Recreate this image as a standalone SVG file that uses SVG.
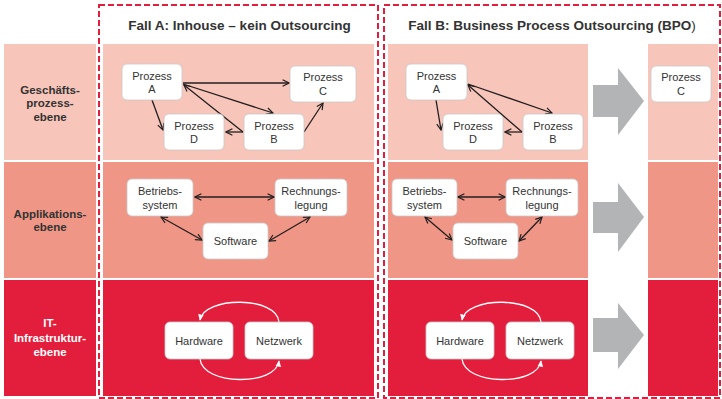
<svg xmlns="http://www.w3.org/2000/svg" width="722" height="399" viewBox="0 0 722 399">
<defs>
<style>
.r1{fill:#F7C5B9}
.r2{fill:#F09686}
.r3{fill:#E31E3C}
.box{fill:#fff;stroke:#c9c9c9;stroke-width:0.8}
.t{font-family:"Liberation Sans",Arial,sans-serif;font-size:11px;fill:#333;text-anchor:middle}
.lab{font-family:"Liberation Sans",Arial,sans-serif;font-size:11.5px;font-weight:bold;fill:#333;text-anchor:middle}
.title{font-family:"Liberation Sans",Arial,sans-serif;font-size:13.5px;font-weight:bold;fill:#333;text-anchor:middle}
.dash{fill:none;stroke:#E31E3C;stroke-width:2;stroke-dasharray:6,3}
.ln{stroke:#231F20;stroke-width:1.3;fill:none}
.wl{stroke:#fff;stroke-width:1.3;fill:none}
.big{fill:#B3B4B6}
</style>
<marker id="ah" viewBox="0 0 10 10" refX="9" refY="5" markerWidth="8" markerHeight="8" markerUnits="userSpaceOnUse" orient="auto-start-reverse">
<path d="M1,1 L9,5 L1,9" fill="none" stroke="#231F20" stroke-width="1.5"/>
</marker>
<marker id="wh" viewBox="0 0 10 10" refX="8" refY="5" markerWidth="7" markerHeight="7" markerUnits="userSpaceOnUse" orient="auto">
<path d="M0,1 L9,5 L0,9 Z" fill="#fff"/>
</marker>
</defs>
<rect width="722" height="399" fill="#fff"/>

<!-- bands -->
<g id="bands">
<rect class="r1" x="4" y="44" width="92" height="116"/>
<rect class="r2" x="4" y="162" width="92" height="116"/>
<rect class="r3" x="4" y="280" width="92" height="116"/>
<rect class="r1" x="103" y="44" width="271" height="116"/>
<rect class="r2" x="103" y="162" width="271" height="116"/>
<rect class="r3" x="103" y="280" width="271" height="116"/>
<rect class="r1" x="388" y="44" width="200" height="116"/>
<rect class="r2" x="388" y="162" width="200" height="116"/>
<rect class="r3" x="388" y="280" width="200" height="116"/>
<rect class="r1" x="648" y="44" width="70" height="116"/>
<rect class="r2" x="648" y="162" width="70" height="116"/>
<rect class="r3" x="648" y="280" width="70" height="116"/>
</g>

<g id="row-labels">
<text class="lab" x="50" y="94">Geschäfts-</text>
<text class="lab" x="50" y="107">prozess-</text>
<text class="lab" x="50" y="121">ebene</text>
<text class="lab" x="50" y="218">Applikations-</text>
<text class="lab" x="50" y="231">ebene</text>
<text class="lab" x="50" y="327" style="fill:#fff">IT-</text>
<text class="lab" x="50" y="342" style="fill:#fff">Infrastruktur-</text>
<text class="lab" x="50" y="356" style="fill:#fff">ebene</text>
</g>

<g id="fallA">
<rect class="dash" x="99" y="5" width="279" height="393"/>
<text class="title" x="239.5" y="30">Fall A: Inhouse – kein Outsourcing</text>
</g>
<g id="fallB">
<rect class="dash" x="384" y="5" width="336" height="393"/>
<text class="title" x="552" y="30">Fall B: Business Process Outsourcing (BPO<tspan font-weight="normal">)</tspan></text>
</g>

<g id="shift-arrows">
<path class="big" d="M593,85 L618,85 L618,68 L644,101 L618,135 L618,117 L593,117 Z"/>
<path class="big" d="M593,202 L618,202 L618,183 L644,217 L618,252 L618,233 L593,233 Z"/>
<path class="big" d="M593,318 L618,318 L618,303 L644,335 L618,369 L618,352 L593,352 Z"/>
</g>

<g id="connectors">
<!-- Fall A, row 1 -->
<line class="ln" x1="183" y1="83" x2="289" y2="83" marker-end="url(#ah)"/>
<line class="ln" x1="183" y1="84" x2="273" y2="113" marker-end="url(#ah)"/>
<line class="ln" x1="243" y1="132" x2="184" y2="85" marker-end="url(#ah)"/>
<line class="ln" x1="243" y1="132" x2="226" y2="132" marker-end="url(#ah)"/>
<line class="ln" x1="152" y1="100" x2="163" y2="130" marker-end="url(#ah)"/>
<line class="ln" x1="304" y1="132" x2="323" y2="103" marker-end="url(#ah)"/>
<!-- Fall B, row 1 -->
<line class="ln" x1="436" y1="100" x2="441" y2="130" marker-end="url(#ah)"/>
<line class="ln" x1="468" y1="84" x2="552" y2="113" marker-end="url(#ah)"/>
<line class="ln" x1="522" y1="132" x2="468" y2="85" marker-end="url(#ah)"/>
<line class="ln" x1="522" y1="132" x2="505" y2="132" marker-end="url(#ah)"/>
<!-- Fall A, row 2 -->
<line class="ln" x1="195" y1="197" x2="274" y2="197" marker-start="url(#ah)" marker-end="url(#ah)"/>
<line class="ln" x1="161" y1="217" x2="202" y2="240" marker-start="url(#ah)" marker-end="url(#ah)"/>
<line class="ln" x1="310" y1="217" x2="269" y2="241" marker-start="url(#ah)" marker-end="url(#ah)"/>
<!-- Fall B, row 2 -->
<line class="ln" x1="458" y1="197" x2="505" y2="197" marker-start="url(#ah)" marker-end="url(#ah)"/>
<line class="ln" x1="425" y1="217" x2="452" y2="240" marker-start="url(#ah)" marker-end="url(#ah)"/>
<line class="ln" x1="542" y1="217" x2="519" y2="241" marker-start="url(#ah)" marker-end="url(#ah)"/>
<!-- Fall A, row 3 -->
<path class="wl" d="M279,322 C277,296 204,296 200,320" marker-end="url(#wh)"/>
<path class="wl" d="M200,359 C203,386 276,386 279,361" marker-end="url(#wh)"/>
<!-- Fall B, row 3 -->
<path class="wl" d="M541,322 C539,296 466,296 462,320" marker-end="url(#wh)"/>
<path class="wl" d="M462,359 C465,386 538,386 541,361" marker-end="url(#wh)"/>
</g>

<!-- Fall A nodes -->
<g id="a-prozess-a"><rect class="box" x="122" y="64" width="60" height="36" rx="5"/><text class="t" x="152" y="80">Prozess</text><text class="t" x="152" y="93">A</text></g>
<g id="a-prozess-c"><rect class="box" x="290" y="66" width="66" height="36" rx="5"/><text class="t" x="323" y="81">Prozess</text><text class="t" x="323" y="95">C</text></g>
<g id="a-prozess-d"><rect class="box" x="164" y="114" width="60" height="36" rx="5"/><text class="t" x="194" y="130">Prozess</text><text class="t" x="194" y="143">D</text></g>
<g id="a-prozess-b"><rect class="box" x="244" y="114" width="60" height="36" rx="5"/><text class="t" x="274" y="130">Prozess</text><text class="t" x="274" y="143">B</text></g>
<g id="a-betriebssystem"><rect class="box" x="127" y="179" width="66" height="37" rx="5"/><text class="t" x="160" y="195">Betriebs-</text><text class="t" x="160" y="209">system</text></g>
<g id="a-rechnungslegung"><rect class="box" x="275" y="179" width="72" height="37" rx="5"/><text class="t" x="311" y="195">Rechnungs-</text><text class="t" x="311" y="209">legung</text></g>
<g id="a-software"><rect class="box" x="203" y="223" width="65" height="36" rx="5"/><text class="t" x="235.5" y="245">Software</text></g>
<g id="a-hardware"><rect class="box" x="165" y="322" width="68" height="37" rx="5"/><text class="t" x="199" y="345">Hardware</text></g>
<g id="a-netzwerk"><rect class="box" x="245" y="322" width="68" height="37" rx="5"/><text class="t" x="279" y="345">Netzwerk</text></g>

<!-- Fall B nodes -->
<g id="b-prozess-a"><rect class="box" x="406" y="64" width="61" height="36" rx="5"/><text class="t" x="436.5" y="80">Prozess</text><text class="t" x="436.5" y="93">A</text></g>
<g id="b-prozess-d"><rect class="box" x="443" y="114" width="60" height="36" rx="5"/><text class="t" x="473" y="130">Prozess</text><text class="t" x="473" y="143">D</text></g>
<g id="b-prozess-b"><rect class="box" x="523" y="114" width="60" height="36" rx="5"/><text class="t" x="553" y="130">Prozess</text><text class="t" x="553" y="143">B</text></g>
<g id="b-prozess-c"><rect class="box" x="651" y="66" width="60" height="36" rx="5"/><text class="t" x="681" y="81">Prozess</text><text class="t" x="681" y="95">C</text></g>
<g id="b-betriebssystem"><rect class="box" x="392" y="179" width="65" height="37" rx="5"/><text class="t" x="424.5" y="195">Betriebs-</text><text class="t" x="424.5" y="209">system</text></g>
<g id="b-rechnungslegung"><rect class="box" x="506" y="179" width="72" height="37" rx="5"/><text class="t" x="542" y="195">Rechnungs-</text><text class="t" x="542" y="209">legung</text></g>
<g id="b-software"><rect class="box" x="453" y="223" width="65" height="36" rx="5"/><text class="t" x="485.5" y="245">Software</text></g>
<g id="b-hardware"><rect class="box" x="426" y="322" width="68" height="37" rx="5"/><text class="t" x="460" y="345">Hardware</text></g>
<g id="b-netzwerk"><rect class="box" x="506" y="322" width="68" height="37" rx="5"/><text class="t" x="540" y="345">Netzwerk</text></g>
</svg>
